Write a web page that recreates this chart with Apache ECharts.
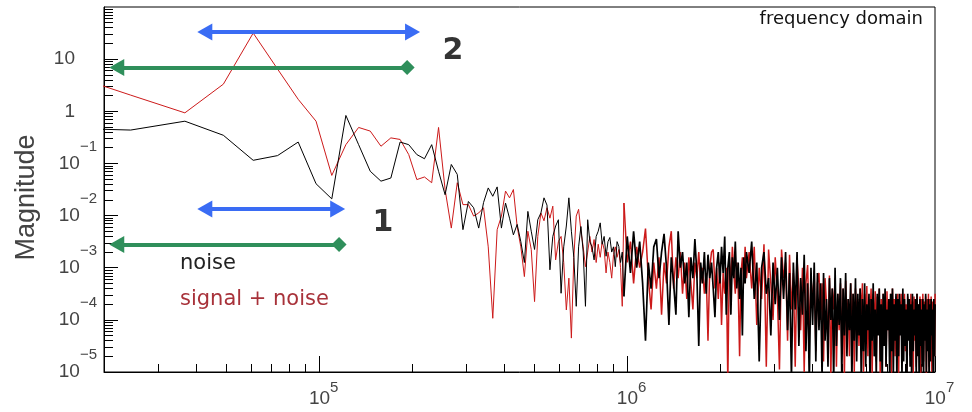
<!DOCTYPE html>
<html>
<head>
<meta charset="utf-8">
<title>frequency domain</title>
<script src="https://cdn.jsdelivr.net/npm/echarts@6/dist/echarts.min.js"></script>
<style>
  html, body { margin: 0; padding: 0; background: #fff; }
  #chart { width: 972px; height: 412px; }
</style>
</head>
<body>
<div id="chart"></div>
<script>
// FFT bin width in Hz, every bin k sits at k * binHz
const binHz = 12207;

// bins that are plotted (all low bins, then every 2nd, then every 4th)
function range(a, b, step) {
  const out = [];
  for (let k = a; k <= b; k += step) out.push(k);
  return out;
}
const lowBins = range(1, 80, 1);
const midBins = range(82, 200, 2);
const highBins = range(204, 820, 4);

// magnitudes, as log10 values
const noiseLow = [
  -0.31, -0.36, -0.19, -0.46, -0.94, -0.85, -0.59, -1.39, -1.68, -0.08,
  -0.64, -1.15, -1.34, -1.28, -0.59, -0.64, -0.83, -0.91, -0.64, -1.15,
  -1.60, -1.02, -1.21, -2.27, -1.73, -1.85, -2.24, -1.75, -1.47, -1.63,
  -1.45, -2.24, -1.76, -2.05, -2.37, -2.17, -2.50, -2.90, -1.92, -2.30,
  -2.65, -2.08, -1.95, -1.66, -1.80, -3.04, -2.40, -2.20, -2.08, -3.49,
  -2.60, -2.20, -1.66, -2.30, -2.80, -3.74, -2.60, -2.21, -2.70, -3.74,
  -2.08, -2.50, -2.60, -2.85, -2.40, -2.30, -2.14, -2.55, -2.40, -2.78,
  -2.50, -2.42, -2.70, -2.60, -2.98, -2.50, -2.59, -2.90, -2.70, -3.55
];
const noiseMid = [
  -2.40, -3.10, -2.30, -3.00, -2.50, -3.30, -4.40, -2.90, -3.40, -2.60,
  -2.45, -3.20, -2.70, -2.35, -3.00, -4.10, -2.80, -3.30, -3.90, -2.30,
  -3.00, -2.70, -3.30, -2.90, -3.95, -2.80, -3.20, -2.45, -3.10, -4.50,
  -2.90, -3.30, -2.70, -3.50, -2.75, -3.20, -2.90, -3.40, -3.95, -3.00,
  -2.70, -3.30, -2.60, -3.10, -2.40, -3.90, -3.00, -2.70, -3.90, -2.80,
  -3.20, -2.50, -3.40, -2.90, -3.60, -3.00, -4.30, -2.80, -3.30, -2.70
];
const noiseHigh = [
  -3.10, -2.50, -3.60, -2.90, -4.80, -3.00, -2.70, -3.50, -3.20, -4.30,
  -2.90, -3.70, -3.00, -4.00, -2.80,
  -3.60, -2.70, -4.20, -3.10, -5.10, -2.90, -3.80, -2.70, -4.50, -3.20,
  -3.90, -2.75, -4.60, -3.30, -5.20, -3.00, -4.10, -2.90, -4.80, -3.10,
  -4.20, -3.30, -5.10, -3.10, -4.40, -3.60, -4.90, -3.20, -4.00, -3.40,
  -5.20, -3.00, -4.50, -3.50, -4.10, -3.20, -5.10, -3.40, -4.30, -3.10,
  -4.70, -3.60, -4.20, -3.30, -5.20, -3.50, -4.40, -3.20, -4.80, -3.50,
  -4.30, -3.40, -5.20, -3.60, -4.60, -3.30, -4.90, -3.70, -4.20, -3.50,
  -5.30, -3.60, -4.40, -3.30, -4.70, -3.80, -5.10, -3.50, -4.30, -3.40,
  -4.80, -3.70, -5.20, -3.50, -4.50, -3.40, -4.90, -3.80, -4.20, -3.60,
  -5.30, -3.50, -4.60, -3.40, -5.00, -3.70, -4.40, -3.50, -5.20, -3.60,
  -4.70, -3.50, -4.30, -3.70, -5.10, -3.40, -4.80, -3.60, -4.50, -3.80,
  -5.30, -3.50, -4.40, -3.60, -4.90, -3.70, -5.20, -3.50, -4.60, -3.80,
  -4.30, -3.60, -5.10, -3.50, -4.70, -3.70, -5.30, -3.60, -4.50, -3.80,
  -4.90, -3.60, -5.20, -3.70, -4.40, -3.50, -5.00, -3.80, -4.60, -3.60,
  -5.30, -3.70, -4.80, -3.60, -4.30, -3.80, -5.10, -3.60, -4.70, -3.70
];

const signalLow = [
   0.90,  0.31, -0.03,  0.52,  1.50,  0.81,  0.23, -0.19, -1.23, -0.64,
  -0.31, -0.38, -0.67, -0.51, -0.54, -0.83, -1.31, -1.26, -1.37, -0.31,
  -1.50, -2.24, -1.37, -1.79, -1.79, -2.01, -1.95, -1.85, -2.60, -3.97,
  -2.27, -2.01, -1.53, -1.66, -1.50, -2.21, -2.60, -3.17, -2.30, -2.65,
  -3.65, -2.40, -1.95, -2.10, -1.85, -2.05, -1.82, -2.85, -2.50, -2.40,
  -2.90, -3.81, -3.20, -4.35, -2.80, -2.01, -1.88, -2.30, -2.60, -2.98,
  -2.70, -2.40, -2.70, -2.46, -2.90, -2.55, -2.80, -2.50, -2.65, -3.10,
  -2.70, -2.90, -3.20, -2.75, -2.60, -2.80, -2.65, -3.00, -3.74, -1.76
];
const signalMid = [
  -2.90, -2.50, -3.30, -2.60, -3.00, -2.70, -2.25, -3.20, -3.80, -2.90,
  -3.40, -2.80, -3.90, -2.90, -3.30, -2.60, -2.30, -3.40, -2.80, -3.20,
  -2.70, -3.50, -2.90, -3.60, -2.80, -3.30, -3.80, -2.90, -3.20, -2.70,
  -3.30, -3.00, -3.50, -3.10, -4.40, -3.00, -2.70, -2.65, -3.40, -3.00,
  -3.60, -2.90, -4.10, -3.10, -3.50, -3.00, -5.20, -2.80, -3.30, -2.60,
  -3.10, -3.50, -2.90, -3.40, -4.70, -3.10, -2.80, -3.30, -2.60, -3.20
];
const signalHigh = [
  -2.70, -3.40, -2.60, -4.10, -3.00, -3.60, -2.55, -4.90, -2.65, -3.30,
  -4.00, -2.80, -3.50, -4.95, -2.65,
  -3.20, -2.90, -4.40, -2.75, -3.80, -3.10, -4.90, -2.85, -3.40, -4.20,
  -3.00, -5.00, -3.30, -2.95, -4.30, -3.20, -3.70, -3.05, -4.60, -3.30,
  -3.10, -4.00, -3.30, -4.80, -3.20, -3.70, -4.40, -3.15, -5.10, -3.40,
  -3.80, -3.20, -4.90, -3.50, -4.20, -3.30, -4.60, -3.40, -5.10, -3.25,
  -4.00, -3.60, -4.70, -3.30, -4.30, -3.50, -5.00, -3.40, -3.90, -3.60,
  -4.50, -3.40, -3.90, -3.30, -5.00, -3.50, -4.20, -3.35, -4.70, -3.60,
  -3.90, -3.40, -5.10, -3.50, -4.30, -3.45, -4.80, -3.55, -4.00, -3.40,
  -5.20, -3.60, -4.40, -3.50, -3.90, -3.70, -4.90, -3.45, -4.20, -3.60,
  -4.60, -3.50, -5.10, -3.40, -4.00, -3.60, -4.70, -3.55, -4.30, -3.50,
  -5.20, -3.65, -4.10, -3.50, -4.80, -3.60, -3.90, -3.50, -4.60, -3.70,
  -5.00, -3.55, -4.30, -3.60, -4.70, -3.50, -4.00, -3.65, -5.20, -3.55,
  -4.40, -3.60, -4.90, -3.50, -4.10, -3.70, -4.60, -3.55, -5.10, -3.60,
  -4.20, -3.50, -4.80, -3.65, -4.00, -3.55, -5.20, -3.60, -4.40, -3.50,
  -4.90, -3.60, -4.30, -3.55, -5.00, -3.65, -4.10, -3.60, -4.70, -3.50
];

// axis ticks (decade exponents) and the 2..9 minor marks
const xTickExp = [5, 6, 7];
const yTickExp = [-5, -4, -3, -2, -1, 0, 1];
const minorMantissa = [2, 3, 4, 5, 6, 7, 8, 9];

// annotation arrows: [from Hz, to Hz, magnitude]
const blueArrows = [[4.25e4, 2.01e5, 33], [4.25e4, 1.148e5, 0.0134]];
const greenArrows = [[2.2e4, 1.93e5, 6.9], [2.2e4, 1.16e5, 0.0028]];
const arrowTags = [[2.72e5, 14, '2'], [1.61e5, 0.0071, '1']];

function toPoints(binList, logList) {
  return binList.map((k, i) => [k * binHz, Math.pow(10, logList[i])]);
}
// sparse part (drawn thin) and the dense part (a bit heavier), joined at bin 80
const noiseSparse = toPoints(lowBins, noiseLow);
const noiseDense = toPoints([80].concat(midBins, highBins), [noiseLow[79]].concat(noiseMid, noiseHigh));
const signalSparse = toPoints(lowBins, signalLow);
const signalDense = toPoints([80].concat(midBins, highBins), [signalLow[79]].concat(signalMid, signalHigh));

const xMajor = xTickExp.map(e => Math.pow(10, e));
const yMajor = yTickExp.map(e => Math.pow(10, e));
const xMinor = [];
[4, 5, 6].forEach(e => minorMantissa.forEach(m => xMinor.push(m * Math.pow(10, e))));
const yMinor = [];
[-5, -4, -3, -2, -1, 0, 1].forEach(e => minorMantissa.forEach(m => yMinor.push(m * Math.pow(10, e))));

const labelFont = 'Liberation Sans';
const labelColor = '#444';
const minus = '\u2212';
const noiseColor = '#000';
const signalColor = '#cc1a1a';

function expOf(v) {
  return Math.round(Math.log10(v));
}
function xLabel(v) {
  return '{g| }{b|10}{e|' + expOf(v) + '}';
}
function yLabel(v) {
  const e = expOf(v);
  if (e === 1) return '{b|10}{g| }';
  if (e === 0) return '{b|1}{g| }';
  return '{b|10}{e|' + (e < 0 ? minus : '') + Math.abs(e) + '}';
}

function lineSeries(name, data, color, width, z) {
  return {
    name: name,
    type: 'line',
    data: data,
    symbol: 'none',
    silent: true,
    lineStyle: { color: color, width: width },
    itemStyle: { color: color },
    z: z
  };
}

const chart = echarts.init(document.getElementById('chart'), null, { renderer: 'canvas' });

const option = {
  animation: false,
  backgroundColor: '#fff',
  title: {
    text: 'frequency domain',
    right: 44,
    top: 5,
    textStyle: { fontFamily: 'DejaVu Sans', fontSize: 18, fontWeight: 'normal', color: '#111' }
  },
  legend: {
    orient: 'vertical',
    left: 170,
    top: 246,
    icon: 'none',
    itemWidth: 0,
    itemGap: 10,
    selectedMode: false,
    textStyle: { fontFamily: 'DejaVu Sans', fontSize: 21, lineHeight: 26 },
    data: [
      { name: 'noise', textStyle: { color: '#222' } },
      { name: 'signal + noise', textStyle: { color: '#a8323a' } }
    ]
  },
  grid: {
    left: 104, right: 37, top: 7, bottom: 40,
    show: true, borderColor: '#000', borderWidth: 1, backgroundColor: '#fff'
  },
  xAxis: [
    {
      type: 'log', logBase: 10, min: 2e4, max: 1e7, position: 'bottom',
      axisLine: { show: true, lineStyle: { color: '#000', width: 1 } },
      axisTick: { show: true, inside: true, length: 16, customValues: xMajor, lineStyle: { color: '#000' } },
      axisLabel: {
        customValues: xMajor, margin: 8, formatter: xLabel,
        rich: {
          b: { fontFamily: labelFont, fontSize: 19, lineHeight: 38, color: labelColor },
          e: { fontFamily: labelFont, fontSize: 15, verticalAlign: 'top', color: labelColor },
          g: { width: 9 }
        }
      },
      splitLine: { show: false }
    },
    {
      type: 'log', logBase: 10, min: 2e4, max: 1e7, position: 'bottom',
      axisLine: { show: false },
      axisTick: { show: true, inside: true, length: 8, customValues: xMinor, lineStyle: { color: '#000' } },
      axisLabel: { show: false },
      splitLine: { show: false }
    }
  ],
  yAxis: [
    {
      type: 'log', logBase: 10, min: 1e-5, max: 100, position: 'left',
      name: 'Magnitude', nameLocation: 'middle', nameGap: 64,
      nameTextStyle: { fontFamily: labelFont, fontSize: 27, color: labelColor, padding: [0, 16, 0, 0] },
      axisLine: { show: true, lineStyle: { color: '#000', width: 1 } },
      axisTick: { show: true, inside: true, length: 14, customValues: yMajor, lineStyle: { color: '#000' } },
      axisLabel: {
        customValues: yMajor, margin: 7, formatter: yLabel,
        rich: {
          b: { fontFamily: labelFont, fontSize: 19, lineHeight: 49, color: labelColor },
          e: { fontFamily: labelFont, fontSize: 15, verticalAlign: 'top', color: labelColor },
          g: { width: 22 }
        }
      },
      splitLine: { show: false }
    },
    {
      type: 'log', logBase: 10, min: 1e-5, max: 100, position: 'left',
      axisLine: { show: false },
      axisTick: { show: true, inside: true, length: 9, customValues: yMinor, lineStyle: { color: '#000' } },
      axisLabel: { show: false },
      splitLine: { show: false }
    }
  ],
  series: [
    lineSeries('signal + noise', signalSparse, signalColor, 1, 2),
    lineSeries('signal + noise', signalDense, signalColor, 1.5, 2),
    lineSeries('noise', noiseSparse, noiseColor, 1, 3),
    lineSeries('noise', noiseDense, noiseColor, 1.7, 3),
    {
      type: 'lines',
      coordinateSystem: 'cartesian2d',
      silent: true,
      symbol: ['triangle', 'triangle'],
      symbolSize: [[17, 15], [17, 15]],
      lineStyle: { color: '#3a6cf4', width: 4, opacity: 1, curveness: 0 },
      data: blueArrows.map(a => ({ coords: [[a[0], a[2]], [a[1], a[2]]] })),
      z: 5
    },
    {
      type: 'lines',
      coordinateSystem: 'cartesian2d',
      silent: true,
      symbol: ['triangle', 'diamond'],
      symbolSize: [[17, 15], [15, 15]],
      lineStyle: { color: '#2f8f5b', width: 4, opacity: 1, curveness: 0 },
      data: greenArrows.map(a => ({ coords: [[a[0], a[2]], [a[1], a[2]]] })),
      z: 5
    },
    {
      type: 'scatter',
      silent: true,
      symbolSize: 0,
      data: arrowTags.map(t => ({ value: [t[0], t[1]], name: t[2] })),
      label: {
        show: true, position: 'inside', formatter: '{b}',
        fontFamily: 'DejaVu Sans', fontWeight: 'bold', fontSize: 30, color: '#000'
      },
      z: 6
    }
  ]
};

chart.setOption(option);
</script>
</body>
</html>
